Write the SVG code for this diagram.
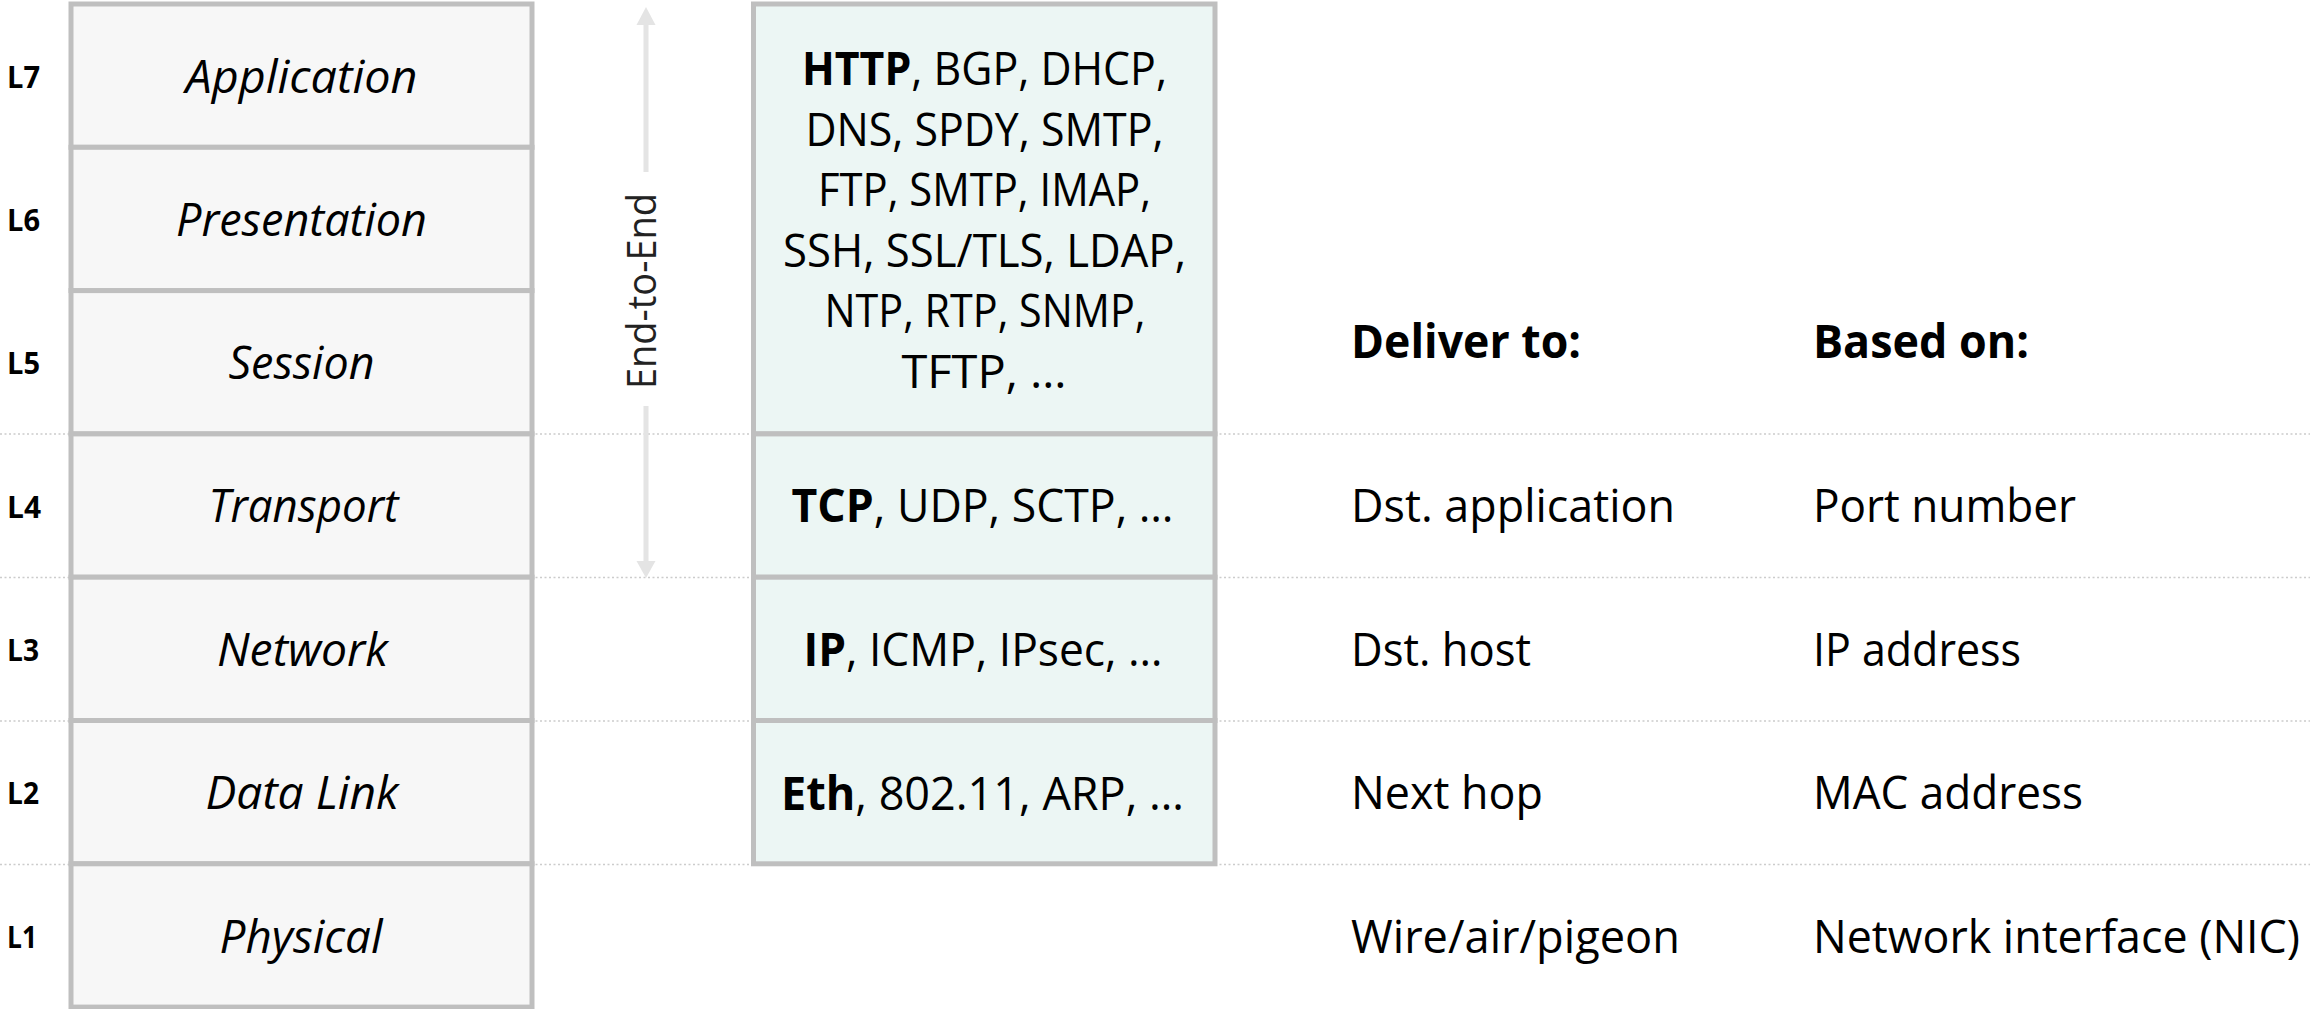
<svg xmlns="http://www.w3.org/2000/svg" width="2310" height="1009" viewBox="0 0 2310 1009">
  <style>
    .bg { fill: #ffffff; }
    .grid { stroke: #cccccc; stroke-width: 1.5; stroke-dasharray: 2 2.5; fill: none; }
    .osi { fill: #f7f7f7; stroke: #bfbfbf; stroke-width: 5; }
    .proto { fill: #ecf6f4; stroke: #bfbfbf; stroke-width: 5; }
    .t { font-family: "Open Sans", "Noto Sans", "Liberation Sans", sans-serif; font-size: 46px; fill: #000000; }
    .ital { font-style: italic; text-anchor: middle; }
    .mid { text-anchor: middle; }
    .lab { font-family: "Open Sans", "Noto Sans", "Liberation Sans", sans-serif; font-size: 30px; font-weight: bold; fill: #000000; }
    .b { font-weight: bold; }
    .arrowline { stroke: #e4e4e4; stroke-width: 5; fill: none; }
    .arrowhead { fill: #e4e4e4; }
    .e2e { font-family: "Open Sans", "Noto Sans", "Liberation Sans", sans-serif; font-size: 40px; fill: #222222; text-anchor: middle; }
  </style>

  <rect class="bg" x="0" y="0" width="2310" height="1009"/>

  <g id="gridlines">
    <line class="grid" x1="0" y1="434" x2="2310" y2="434"/>
    <line class="grid" x1="0" y1="577.5" x2="2310" y2="577.5"/>
    <line class="grid" x1="0" y1="721" x2="2310" y2="721"/>
    <line class="grid" x1="0" y1="864.5" x2="2310" y2="864.5"/>
  </g>

  <g id="layer-labels">
    <text class="lab" x="7" y="88" textLength="33" lengthAdjust="spacingAndGlyphs">L7</text>
    <text class="lab" x="7" y="231" textLength="33" lengthAdjust="spacingAndGlyphs">L6</text>
    <text class="lab" x="7" y="374" textLength="33" lengthAdjust="spacingAndGlyphs">L5</text>
    <text class="lab" x="7" y="518" textLength="34" lengthAdjust="spacingAndGlyphs">L4</text>
    <text class="lab" x="7" y="661" textLength="32" lengthAdjust="spacingAndGlyphs">L3</text>
    <text class="lab" x="7" y="804" textLength="32" lengthAdjust="spacingAndGlyphs">L2</text>
    <text class="lab" x="7" y="948" textLength="30" lengthAdjust="spacingAndGlyphs">L1</text>
  </g>

  <g id="osi-application">
    <rect class="osi" x="71" y="4" width="461" height="143.3"/>
    <text class="t ital" x="301.5" y="93" textLength="232" lengthAdjust="spacingAndGlyphs">Application</text>
  </g>
  <g id="osi-presentation">
    <rect class="osi" x="71" y="147.3" width="461" height="143.3"/>
    <text class="t ital" x="301.5" y="236" textLength="251" lengthAdjust="spacingAndGlyphs">Presentation</text>
  </g>
  <g id="osi-session">
    <rect class="osi" x="71" y="290.6" width="461" height="143.3"/>
    <text class="t ital" x="301.5" y="379" textLength="146" lengthAdjust="spacingAndGlyphs">Session</text>
  </g>
  <g id="osi-transport">
    <rect class="osi" x="71" y="433.9" width="461" height="143.3"/>
    <text class="t ital" x="303.5" y="522" textLength="190" lengthAdjust="spacingAndGlyphs">Transport</text>
  </g>
  <g id="osi-network">
    <rect class="osi" x="71" y="577.2" width="461" height="143.3"/>
    <text class="t ital" x="302.5" y="666" textLength="171" lengthAdjust="spacingAndGlyphs">Network</text>
  </g>
  <g id="osi-datalink">
    <rect class="osi" x="71" y="720.5" width="461" height="143.3"/>
    <text class="t ital" x="302" y="809" textLength="193" lengthAdjust="spacingAndGlyphs">Data Link</text>
  </g>
  <g id="osi-physical">
    <rect class="osi" x="71" y="863.8" width="461" height="143.3"/>
    <text class="t ital" x="301" y="953" textLength="163" lengthAdjust="spacingAndGlyphs">Physical</text>
  </g>

  <g id="proto-app">
    <rect class="proto" x="753.5" y="4" width="461.5" height="429.9"/>
    <text class="t mid" x="984.5" y="85" textLength="365" lengthAdjust="spacingAndGlyphs"><tspan class="b">HTTP</tspan>, BGP, DHCP,</text>
    <text class="t mid" x="984.5" y="145.5" textLength="358" lengthAdjust="spacingAndGlyphs">DNS, SPDY, SMTP,</text>
    <text class="t mid" x="984.5" y="206" textLength="333" lengthAdjust="spacingAndGlyphs">FTP, SMTP, IMAP,</text>
    <text class="t mid" x="984.5" y="266.5" textLength="403" lengthAdjust="spacingAndGlyphs">SSH, SSL/TLS, LDAP,</text>
    <text class="t mid" x="985" y="327" textLength="321" lengthAdjust="spacingAndGlyphs">NTP, RTP, SNMP,</text>
    <text class="t mid" x="984" y="387.5" textLength="165" lengthAdjust="spacingAndGlyphs">TFTP, …</text>
  </g>
  <g id="proto-transport">
    <rect class="proto" x="753.5" y="433.9" width="461.5" height="143.3"/>
    <text class="t mid" x="982.5" y="522" textLength="382" lengthAdjust="spacingAndGlyphs"><tspan class="b">TCP</tspan>, UDP, SCTP, …</text>
  </g>
  <g id="proto-network">
    <rect class="proto" x="753.5" y="577.2" width="461.5" height="143.3"/>
    <text class="t mid" x="983" y="666" textLength="359" lengthAdjust="spacingAndGlyphs"><tspan class="b">IP</tspan>, ICMP, IPsec, …</text>
  </g>
  <g id="proto-datalink">
    <rect class="proto" x="753.5" y="720.5" width="461.5" height="143.3"/>
    <text class="t mid" x="982.5" y="810" textLength="403" lengthAdjust="spacingAndGlyphs"><tspan class="b">Eth</tspan>, 802.11, ARP, …</text>
  </g>

  <g id="connectors">
    <line class="arrowline" x1="646" y1="24" x2="646" y2="172"/>
    <line class="arrowline" x1="646" y1="406" x2="646" y2="563"/>
    <polygon class="arrowhead" points="646,7 655.5,25 636.5,25"/>
    <polygon class="arrowhead" points="646,578 655.5,561 636.5,561"/>
    <text class="e2e" transform="translate(656,291) rotate(-90)" x="0" y="0" textLength="196" lengthAdjust="spacingAndGlyphs">End-to-End</text>
  </g>

  <g id="col-deliver">
    <text class="t b" x="1351" y="358" textLength="230" lengthAdjust="spacingAndGlyphs">Deliver to:</text>
    <text class="t" x="1351" y="522" textLength="324" lengthAdjust="spacingAndGlyphs">Dst. application</text>
    <text class="t" x="1351" y="666" textLength="180" lengthAdjust="spacingAndGlyphs">Dst. host</text>
    <text class="t" x="1351" y="809" textLength="192" lengthAdjust="spacingAndGlyphs">Next hop</text>
    <text class="t" x="1351" y="953" textLength="329" lengthAdjust="spacingAndGlyphs">Wire/air/pigeon</text>
  </g>

  <g id="col-based">
    <text class="t b" x="1813" y="358" textLength="216" lengthAdjust="spacingAndGlyphs">Based on:</text>
    <text class="t" x="1813" y="522" textLength="263" lengthAdjust="spacingAndGlyphs">Port number</text>
    <text class="t" x="1813" y="666" textLength="208" lengthAdjust="spacingAndGlyphs">IP address</text>
    <text class="t" x="1813" y="809" textLength="270" lengthAdjust="spacingAndGlyphs">MAC address</text>
    <text class="t" x="1813" y="953" textLength="487" lengthAdjust="spacingAndGlyphs">Network interface (NIC)</text>
  </g>
</svg>
